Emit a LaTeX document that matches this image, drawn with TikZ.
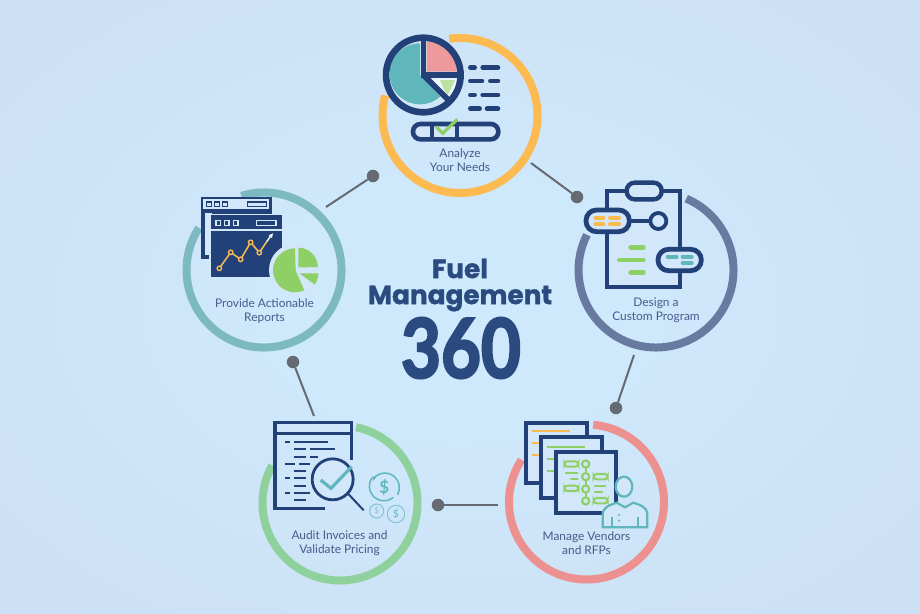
\documentclass[tikz,border=0pt]{standalone}
\usepackage{fontspec}
\usepackage{graphicx}
\setmainfont{Lato}
\usetikzlibrary{calc}
\newfontfamily\titlefont[FakeBold=1.2]{Poppins}
\newfontfamily\digitfont[FakeBold=3]{Lato}
\definecolor{navy}{HTML}{234179}
\definecolor{titleblue}{HTML}{2A4A80}
\definecolor{labelblue}{HTML}{475B8C}
\definecolor{bgmid}{HTML}{CEE8FC}
\definecolor{bgmid2}{HTML}{CDE0F3}
\definecolor{bgout}{HTML}{C5D0E4}
\definecolor{panel}{HTML}{D2E7F9}
\definecolor{ryellow}{HTML}{FDBA50}
\definecolor{rslate}{HTML}{687AA0}
\definecolor{rteal}{HTML}{7DB9C0}
\definecolor{rgreen}{HTML}{8FD19C}
\definecolor{rred}{HTML}{EC9090}
\definecolor{tealf}{HTML}{5FB7BC}
\definecolor{greenf}{HTML}{8ECF66}
\definecolor{redf}{HTML}{EE9A9C}
\definecolor{yellowf}{HTML}{F9BA52}
\definecolor{dotgrey}{HTML}{666A72}
\pgfdeclareradialshading{backdrop}{\pgfpoint{0bp}{0bp}}{color(0bp)=(bgmid); color(10bp)=(bgmid); color(34bp)=(bgmid2); color(50bp)=(bgmid2!55!bgout); color(62bp)=(bgout)}
\tikzset{
  ringarc/.style={line width=8pt,line cap=butt},
  stagelabel/.style={text=labelblue,font=\fontsize{11.9}{13.8}\selectfont,align=center,inner sep=0pt},
  link/.style={draw=dotgrey,line width=2pt},
  linkdot/.style={circle,fill=dotgrey,inner sep=0pt,minimum size=12.5pt},
  crop/.style={x=0.33333pt,y=-0.33333pt},
  navyline/.style={draw=navy,line cap=round,line width=4.6pt},
  yb/.style={draw=yellowf,line cap=round,line width=4pt},
  gb/.style={draw=greenf,line cap=round,line width=4.6pt},
  tb/.style={draw=tealf,line cap=round,line width=4pt},
  docline/.style={draw=navy,line width=2pt},
  gl/.style={draw=greenf,line width=2.1pt,line cap=round},
  pers/.style={draw=tealf,line width=2.2pt},
  titletext/.style={text=titleblue,inner sep=0pt},
}
\newcommand{\stagering}[5]{\draw[ringarc,draw=#5] ([shift={(#1,#2)}]#3:77.5pt) arc[start angle=#3,end angle=#4,radius=77.5pt];}
\begin{document}
\begin{tikzpicture}[x=1pt,y=-1pt]
\useasboundingbox (0,0) rectangle (920,613);
\shade[shading=backdrop] (0,0) rectangle (920,613);

% rings
\stagering{460}{115.5}{98}{-195}{ryellow}
\stagering{656}{270}{67}{-207}{rslate}
\stagering{264}{270}{107}{-213}{rteal}
\stagering{340}{503}{78}{-209}{rgreen}
\stagering{586.5}{502}{85}{-213}{rred}

% connectors
\coordinate (c1) at (531,163);
\coordinate (c2) at (634,355);
\coordinate (c3) at (498,505);
\coordinate (c4) at (314,416);
\coordinate (c5) at (326,207);
\node[linkdot] (d1) at (577,197) {};
\node[linkdot] (d2) at (616,408) {};
\node[linkdot] (d3) at (438,505) {};
\node[linkdot] (d4) at (293,362) {};
\node[linkdot] (d5) at (373,176) {};
\draw[link] (c1) -- (d1);
\draw[link] (c2) -- (d2);
\draw[link] (c3) -- (d3);
\draw[link] (c4) -- (d4);
\draw[link] (c5) -- (d5);

% centre title
\node[titletext,align=center,font={\fontsize{26.3}{26}\selectfont\titlefont\bfseries}] (t1) at (460,285) {Fuel\\Management};
\node[titletext,font={\fontsize{82}{80}\selectfont\digitfont\bfseries}] (t3) at (461,348) {\scalebox{0.84}[1]{360}};

% stage labels
\node[stagelabel] (l1) at (460,160) {Analyze\\Your Needs};
\node[stagelabel] (l2) at (656,310.5) {Design a\\Custom Program};
\node[stagelabel] (l3) at (264.5,311) {Provide Actionable\\Reports};
\node[stagelabel] (l4) at (339.5,543) {Audit Invoices and\\Validate Pricing};
\node[stagelabel] (l5) at (586.5,543) {Manage Vendors\\and RFPs};

% icon 1: pie and list
\begin{scope}[shift={(360,20)},crop]
\fill[panel] (190,165) circle[radius=38pt];
\fill[tealf] (180,70) arc[start angle=90,end angle=312,radius=30.5pt] -- (180,165) -- cycle;
\fill[redf] (200,65) arc[start angle=90,end angle=0,radius=30pt] -- (200,155) -- cycle;
\fill[white!60!panel] (215,175) -- (290,175) arc[start angle=0,end angle=-48,radius=25pt] -- cycle;
\fill[greenf!60!white] (240,180) -- (285,180) -- (262,228) -- (250,205) -- cycle;
\draw[navy,line width=6.6pt] (190,165) circle[radius=37.3pt];
\draw[navy,line width=5.6pt] (190,55) -- (190,165) -- (305,165);
\draw[navy,line width=5.6pt] (190,165) -- (275,250);
\foreach \a/\b/\cc/\dd/\yy in {325/350/362/420/143,325/372/385/420/183,325/350/362/420/225,325/365/375/420/266}{
  \draw[navyline] (\a+6,\yy) -- (\b-6,\yy);
  \draw[navyline] (\cc+6,\yy) -- (\dd-6,\yy);
}
\draw[navy,line width=4.6pt,fill=panel,rounded corners=7.5pt] (159,312) rectangle (415,358);
\draw[navy,line width=4pt] (215,312) -- (215,358) (290,312) -- (290,358);
\draw[greenf,line width=3.2pt] (228,320) -- (248,340) -- (292,298);
\end{scope}

% icon 2: clipboard
\begin{scope}[shift={(560,170)},crop]
\fill[panel] (140,62) rectangle (360,350);
\draw[navy,line width=3.8pt] (140,62) rectangle (360,350);
\draw[navy,line width=4.4pt,fill=panel,rounded corners=8pt] (200,38) rectangle (305,88);
\draw[navy,line width=3.8pt] (210,153) -- (271,153);
\draw[navy,line width=3.8pt,fill=panel] (295,153) circle[radius=8pt];
\draw[navy,line width=4.8pt,fill=panel,rounded corners=10.5pt] (78,120) rectangle (208,185);
\draw[navy,line width=4.8pt,fill=panel,rounded corners=10.5pt] (294,238) rectangle (424,302);
\draw[yb] (106,143) -- (130,143) (150,143) -- (177,143) (106,163) -- (130,163) (150,163) -- (177,163);
\draw[tb] (323,260) -- (350,260) (368,260) -- (395,260) (368,279) -- (395,279);
\draw[gb] (212,232) -- (250,232) (178,270) -- (250,270) (212,307) -- (250,307);
\end{scope}

% icon 3: report windows
\begin{scope}[shift={(170,180)},crop]
\fill[navy] (92,50) rectangle (305,238);
\fill[panel] (105,98) rectangle (125,225);
\fill[panel] (100,58) rectangle (297,88);
\foreach \xx in {110,133,157}{\draw[navy,line width=1.5pt] (\xx,66) rectangle (\xx+15,80);}
\draw[navy,line width=1.5pt] (232,66) rectangle (290,80);
\fill[panel] (118,101) rectangle (339,295);
\fill[navy] (122,105) rectangle (335,291);
\draw[panel,line width=1.2pt] (122,150) -- (335,150);
\foreach \xx in {138,163,190}{\draw[panel,line width=1.3pt] (\xx,122) rectangle (\xx+14,136);}
\draw[panel,line width=1.3pt] (260,122) rectangle (318,136);
\draw[yellowf,line width=1.5pt] (148,265) -- (182,217) -- (212,238) -- (242,187) -- (268,218) -- (290,185);
\draw[white!70!panel,line width=1.5pt] (290,185) -- (303,167);
\fill[white!70!panel] (309,160) -- (296,166) -- (306,174) -- cycle;
\foreach \xx/\yy in {148/265,182/217,212/238,242/187,268/218}{\draw[yellowf,fill=navy,line width=1.4pt] (\xx,\yy) circle[radius=2.2pt];}
\fill[panel] (375,270) circle[radius=26pt];
\fill[greenf] (375,205) arc[start angle=90,end angle=295,radius=22pt] -- (377,272) -- cycle;
\fill[greenf] (385,203) arc[start angle=90,end angle=0,radius=19.5pt] -- (385,262) -- cycle;
\fill[greenf] (388,280) -- (445,280) arc[start angle=0,end angle=-35,radius=19.5pt] -- cycle;
\end{scope}

% icon 4: audit sheet
\begin{scope}[shift={(250,410)},crop]
\draw[navy,line width=3.2pt] (225,295) -- (75,295) -- (75,38) -- (305,38) -- (305,150);
\draw[navy,line width=2.6pt] (75,70) -- (305,70);
\foreach \a/\b/\yy in {105/120/97,132/235/97,132/168/118,180/255/118,132/168/140,180/203/140,105/135/162,148/180/162,132/168/183,105/120/205,132/168/205,132/168/227,105/120/249,132/180/249,132/168/271}{
  \draw[docline] (\a,\yy) -- (\b,\yy);
}
\draw[navy,line width=2.8pt,fill=panel] (248,208) circle[radius=20.5pt];
\draw[navy,line width=2pt,line cap=round] (296,253) -- (340,300);
\draw[tealf,line width=3.2pt] (212,210) -- (243,235) -- (305,170);
\draw[tealf,line width=1.5pt] (371,205) arc[start angle=140,end angle=-30,radius=14.6pt];
\draw[tealf,line width=1.5pt] (430,262) arc[start angle=-50,end angle=-215,radius=14.6pt];
\fill[tealf] (366,200) -- (380,200) -- (370,212) -- cycle;
\node[text=tealf,inner sep=0pt,font={\fontsize{17}{17}\selectfont\bfseries}] (coinA) at (403,232) {\$};
\draw[tealf!70!panel,line width=1pt] (380,303) circle[radius=7pt];
\draw[tealf!70!panel,line width=1pt] (438,312) circle[radius=8.7pt];
\node[text=tealf!70!panel,inner sep=0pt,font={\fontsize{8}{8}\selectfont}] (coinB) at (380,303) {\$};
\node[text=tealf,inner sep=0pt,font={\fontsize{10}{10}\selectfont}] (coinC) at (438,312) {\$};
\end{scope}

% icon 5: vendor documents
\begin{scope}[shift={(495,410)},crop]
\draw[navy,line width=3.8pt,fill=panel] (92,38) rectangle (275,220);
\draw[yellowf,line width=2.2pt] (110,63) -- (225,63) (110,100) -- (131,100) (110,134) -- (131,134);
\draw[navy,line width=3.8pt,fill=panel] (137,82) rectangle (320,265);
\draw[greenf,line width=2pt] (155,110) -- (270,110) (155,147) -- (176,147) (155,183) -- (176,183);
\draw[navy,line width=3.8pt,fill=panel] (182,125) rectangle (362,308);
\draw[gl] (272,162) -- (272,273);
\foreach \yy in {162,200,237,273}{\draw[gl,fill=panel] (272,\yy) circle[radius=3.6pt];}
\foreach \xx/\yy in {208/162,208/235,296/200,296/272}{\draw[gl,rounded corners=3pt] (\xx,\yy-8) rectangle (\xx+42,\yy+8);}
\draw[gl] (212,190) -- (248,190) (228,208) -- (248,208) (300,228) -- (330,228) (300,247) -- (322,247);
\draw[pers,fill=panel] (323,352) -- (323,315) .. controls (323,290) and (345,285) .. (365,278) -- (390,292) -- (415,278) .. controls (435,285) and (457,290) .. (457,315) -- (457,352) -- cycle;
\draw[pers,fill=panel] (387,230) ellipse[x radius=8.3pt,y radius=10pt];
\draw[pers] (350,320) -- (350,352) (428,320) -- (428,352);
\fill[tealf] (372,315) circle[radius=1.2pt] (372,332) circle[radius=1.2pt];
\end{scope}
\end{tikzpicture}
\end{document}
